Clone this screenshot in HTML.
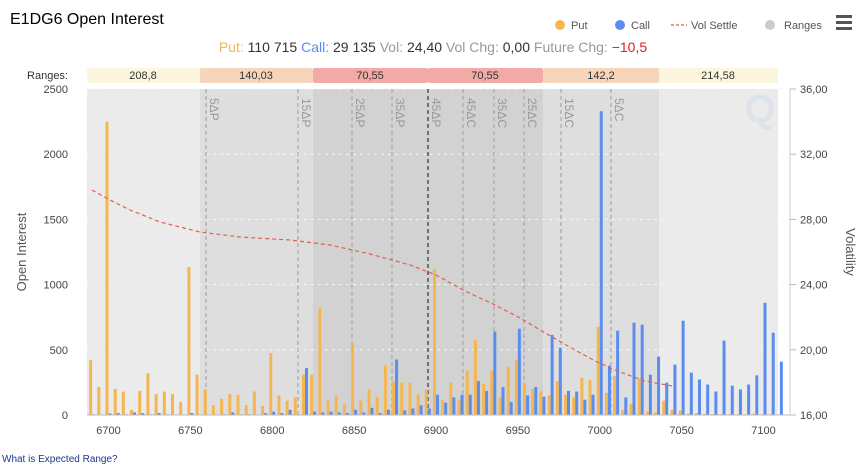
<!DOCTYPE html>
<html><head><meta charset="utf-8"><style>
body{margin:0;background:#fff;font-family:"Liberation Sans",sans-serif;}
svg text{font-family:"Liberation Sans",sans-serif;}
</style></head><body>
<svg id="c" width="866" height="466" xmlns="http://www.w3.org/2000/svg">
<rect width="866" height="466" fill="#fff"/>
<text x="10" y="24" font-size="16" fill="#000">E1DG6 Open Interest</text>
<circle cx="560" cy="25" r="5" fill="#f5b651"/><text x="571" y="29" font-size="11" fill="#555">Put</text>
<circle cx="620" cy="25" r="5" fill="#5b8def"/><text x="631" y="29" font-size="11" fill="#555">Call</text>
<line x1="671" y1="25" x2="687" y2="25" stroke="#e07a6a" stroke-width="1.5" stroke-dasharray="3,2"/><text x="691" y="29" font-size="11" fill="#555">Vol Settle</text>
<circle cx="770" cy="25" r="5" fill="#ccc"/><text x="784" y="29" font-size="11" fill="#555">Ranges</text>
<rect x="836" y="15" width="16" height="3" fill="#555"/><rect x="836" y="21" width="16" height="3" fill="#555"/><rect x="836" y="27" width="16" height="3" fill="#555"/>
<text x="433" y="52" font-size="14" text-anchor="middle"><tspan fill="#f5b651">Put: </tspan><tspan fill="#333">110 715 </tspan><tspan fill="#5b8def"> Call: </tspan><tspan fill="#333">29 135 </tspan><tspan fill="#999"> Vol: </tspan><tspan fill="#333">24,40 </tspan><tspan fill="#999"> Vol Chg: </tspan><tspan fill="#333">0,00 </tspan><tspan fill="#999"> Future Chg: </tspan><tspan fill="#e02020">−10,5</tspan></text>
<text x="68" y="79" font-size="11" fill="#333" text-anchor="end">Ranges:</text>
<g font-size="11" fill="#333" text-anchor="middle">
<rect x="87" y="68" width="113" height="15" fill="#fdf6df"/><text x="143" y="79">208,8</text>
<rect x="200" y="68" width="113" height="15" rx="2" fill="#f7d5bb"/><text x="256" y="79">140,03</text>
<rect x="313" y="68" width="115" height="15" rx="2" fill="#f2aaa6"/><text x="370" y="79">70,55</text>
<rect x="428" y="68" width="115" height="15" rx="2" fill="#f2aaa6"/><text x="485" y="79">70,55</text>
<rect x="543" y="68" width="116" height="15" rx="2" fill="#f7d5bb"/><text x="601" y="79">142,2</text>
<rect x="659" y="68" width="119" height="15" fill="#fdf6df"/><text x="718" y="79">214,58</text>
</g>
<rect x="87" y="89" width="113" height="326" fill="#ebebeb"/>
<rect x="200" y="89" width="113" height="326" fill="#dedede"/>
<rect x="313" y="89" width="230" height="326" fill="#d2d2d2"/>
<rect x="543" y="89" width="116" height="326" fill="#dedede"/>
<rect x="659" y="89" width="119" height="326" fill="#ebebeb"/>
<text x="760" y="122" font-size="40" font-weight="bold" fill="#dde3e8" text-anchor="middle">Q</text>
<g id="grid" stroke="#f5f5f5" stroke-dasharray="3,4" stroke-width="1"></g>
<g id="dl" stroke="#a8a8a8" stroke-dasharray="4,3" stroke-width="1.2"></g>
<g id="bars"></g>
<polyline fill="none" stroke="#e0604f" stroke-width="1.2" stroke-dasharray="4,3" points="92,190 110,200 130,210 160,222 200,232 240,237 290,240 330,245 370,254 410,265 436,275 465,291 495,305 520,318 547,334 575,350 597,362 620,372 645,381 672,386"/>
<line x1="87" y1="415" x2="790" y2="415" stroke="#bbb"/>
<line x1="790" y1="89" x2="790" y2="415" stroke="#ccc"/>
<g font-size="11" fill="#444" id="ax"></g>
<text x="26" y="252" font-size="13" fill="#555" text-anchor="middle" transform="rotate(-90 26 252)">Open Interest</text>
<text x="846" y="252" font-size="13" fill="#555" text-anchor="middle" transform="rotate(90 846 252)">Volatility</text>
<text x="2" y="462" font-size="10" fill="#1a3a8a">What is Expected Range?</text>
</svg>
<script>
var ns="http://www.w3.org/2000/svg";
function el(p,t,a,txt){var e=document.createElementNS(ns,t);for(var k in a)e.setAttribute(k,a[k]);if(txt!=null)e.textContent=txt;document.getElementById(p).appendChild(e);return e;}
function X(v){return 108.5+(v-6700)*1.6375;}
function Y(v){return 415-v*0.1304;}
for(var g=500;g<=2500;g+=500){el('grid','line',{x1:87,x2:790,y1:Y(g),y2:Y(g)});}
for(var g=0;g<=2500;g+=500){el('ax','text',{x:68,y:Y(g)+4,'text-anchor':'end'},g);}
for(var i=0;i<=5;i++){var v=16+4*i;el('ax','text',{x:800,y:415-i*65.2+4},v.toFixed(2).replace('.',','));el('ax','line',{x1:790,x2:796,y1:415-i*65.2,y2:415-i*65.2,stroke:'#bbb'});}
for(var s=6700;s<=7100;s+=50){el('ax','text',{x:X(s),y:434,'text-anchor':'middle'},s);}
var dls=[[206,'5ΔP'],[298,'15ΔP'],[352,'25ΔP'],[392,'35ΔP'],[428,'45ΔP'],[463,'45ΔC'],[494,'35ΔC'],[524,'25ΔC'],[561,'15ΔC'],[611,'5ΔC']];
dls.forEach(function(d){el('dl','line',{x1:d[0],x2:d[0],y1:89,y2:415,stroke:d[0]==428?'#333':'#a8a8a8'});
el('ax','text',{x:d[0]+4,y:98,fill:'#999','font-size':12,transform:'rotate(90 '+(d[0]+4)+' 98)'},d[1]);});
var puts=[420,215,2250,200,180,40,185,320,160,180,160,100,1135,310,195,75,125,160,155,75,180,70,475,150,110,135,310,310,820,110,150,85,550,110,195,140,380,260,250,245,160,195,1120,117,248,117,340,577,240,340,137,370,425,248,200,180,150,260,155,135,285,270,677,170,300,40,85,280,25,20,110,40,35,10,15,8,8,6,6,5,5,10,5,5,5];
var calls=[5,0,12,15,5,20,15,5,15,5,3,3,15,3,3,3,5,20,5,5,3,15,25,15,40,3,360,25,20,25,20,15,40,20,55,15,40,425,35,50,75,50,155,95,135,155,155,260,185,640,215,100,662,150,215,140,615,516,185,180,117,155,2330,378,646,135,708,693,309,447,248,386,723,325,272,234,180,570,225,196,234,304,861,631,409];
for(var i=0;i<puts.length;i++){var s=6690+5*i,x=X(s);
if(puts[i]>0)el('bars','rect',{x:x-3,y:Y(puts[i]),width:3,height:puts[i]*0.1304,fill:'#f5b651'});
if(calls[i]>0)el('bars','rect',{x:x,y:Y(calls[i]),width:3,height:calls[i]*0.1304,fill:'#5b8def'});}
</script>
</body></html>
